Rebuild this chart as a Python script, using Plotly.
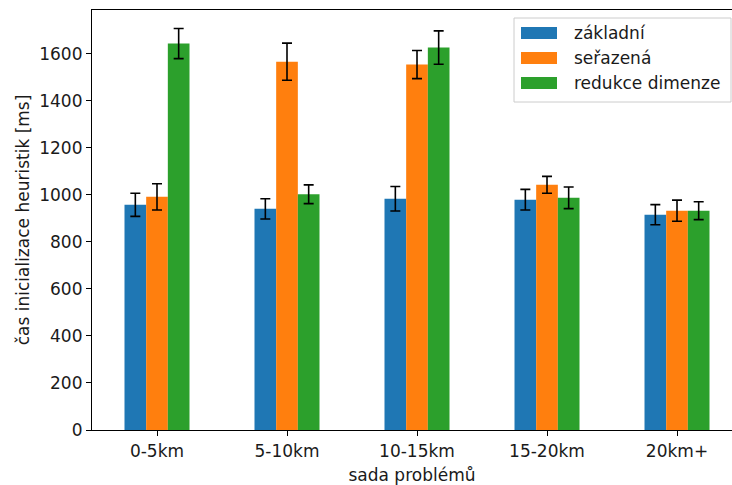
import plotly.graph_objects as go

# Problem sets (distance bands)
categories = ["0-5km", "5-10km", "10-15km", "15-20km", "20km+"]

# Mean heuristic initialisation time [ms] and standard deviation per variant
zakladni = [958, 941, 984, 980, 916]
zakladni_err = [49, 43, 52, 44, 43]

serazena = [992, 1567, 1555, 1043, 933]
serazena_err = [56, 79, 60, 36, 45]

redukce = [1644, 1003, 1627, 988, 933]
redukce_err = [64, 40, 71, 46, 38]

series = [
    ("základní", zakladni, zakladni_err, "#1f77b4"),
    ("seřazená", serazena, serazena_err, "#ff7f0e"),
    ("redukce dimenze", redukce, redukce_err, "#2ca02c"),
]

FONT = "DejaVu Sans"
FS = 17
TXT = "#1a1a1a"

W, H = 732, 485
ML, MR, MT, MB = 92, 0, 10, 55
PW, PH = W - ML - MR, H - MT - MB


def px_x(px):
    return (px - ML) / PW


def px_y(py):
    return (H - MB - py) / PH


fig = go.Figure()
for name, vals, errs, color in series:
    fig.add_trace(go.Bar(
        x=categories, y=vals, name=name, showlegend=False,
        marker=dict(color=color, line=dict(width=0)),
        error_y=dict(type="data", array=errs, visible=True,
                     color="black", thickness=1.6, width=5),
    ))

# Legend box with wide colour patches, matplotlib style
shapes = [dict(type="rect", xref="paper", yref="paper",
               x0=px_x(514), x1=px_x(731), y0=px_y(102), y1=px_y(18),
               line=dict(color="#cccccc", width=1),
               fillcolor="rgba(255,255,255,0.85)", layer="above")]
annotations = []
for i, (name, _, _, color) in enumerate(series):
    cy = 33 + 25 * i
    shapes.append(dict(type="rect", xref="paper", yref="paper",
                       x0=px_x(521), x1=px_x(557), y0=px_y(cy + 6), y1=px_y(cy - 6),
                       line=dict(width=0), fillcolor=color, layer="above"))
    annotations.append(dict(xref="paper", yref="paper", x=px_x(572), y=px_y(cy),
                            xanchor="left", yanchor="middle", text=name, showarrow=False,
                            font=dict(family=FONT, size=FS, color=TXT)))

fig.update_layout(
    width=W, height=H,
    margin=dict(l=ML, r=MR, t=MT, b=MB),
    paper_bgcolor="white", plot_bgcolor="white",
    barmode="group", bargap=0.5, bargroupgap=0,
    font=dict(family=FONT, size=FS, color=TXT),
    showlegend=False,
    shapes=shapes, annotations=annotations,
    xaxis=dict(
        type="category", range=[-0.5, 4.423],
        showline=True, linecolor="black", linewidth=1.2, mirror=True,
        ticks="outside", ticklen=5, tickcolor="black", tickwidth=1,
        showgrid=False, zeroline=False,
        title=dict(text="sada problémů", standoff=9,
                   font=dict(family=FONT, size=FS, color=TXT)),
    ),
    yaxis=dict(
        range=[0, 1787], tickvals=[0, 200, 400, 600, 800, 1000, 1200, 1400, 1600],
        showline=True, linecolor="black", linewidth=1.2,
        ticks="outside", ticklen=5, tickcolor="black", tickwidth=1,
        showgrid=False, zeroline=False,
        title=dict(text="čas inicializace heuristik [ms]", standoff=5,
                   font=dict(family=FONT, size=FS, color=TXT)),
    ),
)

fig.write_html("out.html")
